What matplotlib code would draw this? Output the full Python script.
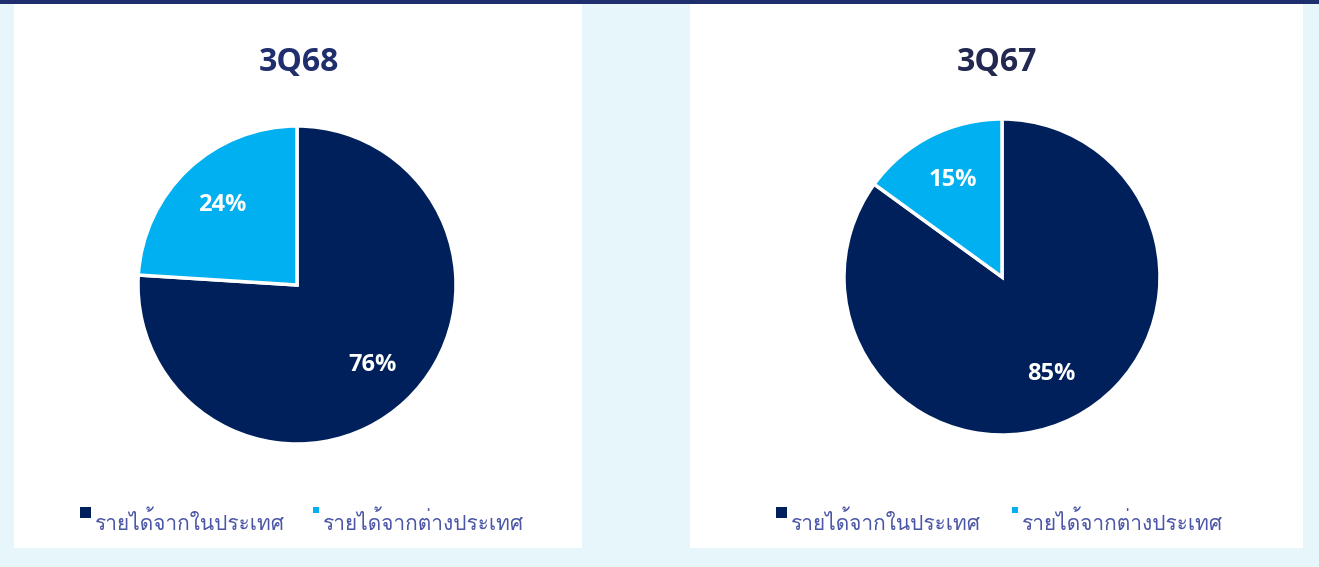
import matplotlib
matplotlib.use("Agg")
import matplotlib.pyplot as plt
from matplotlib import font_manager as fm
from matplotlib.ft2font import FT2Font
from matplotlib.patches import Rectangle

# data
periods = ["3Q68", "3Q67"]
labels = ["รายได้จากในประเทศ", "รายได้จากต่างประเทศ"]
share_3q68 = [76, 24]
share_3q67 = [85, 15]
shares = [share_3q68, share_3q67]

navy = "#00205C"
cyan = "#00B0F0"
bg = "#E6F6FB"
bar = "#1F2F6E"
legend_col = "#4B56A6"
title_cols = ["#1F2F6E", "#22284F"]


def thai_font():
    # look for an installed font that has Thai glyphs
    for f in fm.fontManager.ttflist:
        try:
            cmap = FT2Font(f.fname).get_charmap()
        except Exception:
            continue
        if 0x0E23 in cmap and 0x0E17 in cmap:
            return f.name
    return None


tf = thai_font()
fams = ["Open Sans", "Noto Sans", "DejaVu Sans"]
thai_fams = ([tf] if tf else []) + fams
plt.rcParams["font.family"] = fams

W, H = 1319, 567
fig = plt.figure(figsize=(W / 100, H / 100), dpi=100)
fig.patch.set_facecolor(bg)


def fx(px):
    return px / W


def fy(py):
    return 1 - py / H


# top bar and white panels (behind the pies)
fig.add_artist(Rectangle((0, fy(4)), 1, 4 / H, transform=fig.transFigure,
                         color=bar, lw=0, zorder=-2))
panels = [(14, 582), (690, 1303)]
for x0, x1 in panels:
    fig.add_artist(Rectangle((fx(x0), fy(548)), fx(x1 - x0), (548 - 4) / H,
                             transform=fig.transFigure, color="white", lw=0,
                             zorder=-2))

centers = [(297, 285, 159), (1002, 277, 158)]
title_x = [299, 997]
leg_x = [(80, 313), (776, 1012)]

for i in range(2):
    cx, cy, r = centers[i]
    ax = fig.add_axes([fx(cx - r), fy(cy + r), fx(2 * r), 2 * r / H])
    ax.set_zorder(2)
    wedges, texts, autotexts = ax.pie(
        shares[i], colors=[navy, cyan], startangle=90, counterclock=False,
        autopct="%d%%", pctdistance=0.69,
        wedgeprops=dict(edgecolor="white", linewidth=2.5),
        textprops=dict(color="white", fontsize=17, fontweight="bold"))
    ax.set_xlim(-1.0, 1.0)
    ax.set_ylim(-1.0, 1.0)
    ax.set_aspect("equal")
    ax.axis("off")

    fig.text(fx(title_x[i]), fy(62), periods[i], ha="center", va="center",
             fontsize=23, fontweight="bold", color=title_cols[i])

    # legend
    sizes = [11, 6]
    cols = [navy, cyan]
    for j in range(2):
        lx = leg_x[i][j]
        s = sizes[j]
        fig.add_artist(Rectangle((fx(lx), fy(507 + s)), fx(s), s / H,
                                 transform=fig.transFigure, color=cols[j], lw=0))
        fig.text(fx(lx + s + 4), fy(522), labels[j], ha="left", va="center",
                 fontsize=15, color=legend_col, family=thai_fams)

fig.savefig("out.png", dpi=100, facecolor=bg)
